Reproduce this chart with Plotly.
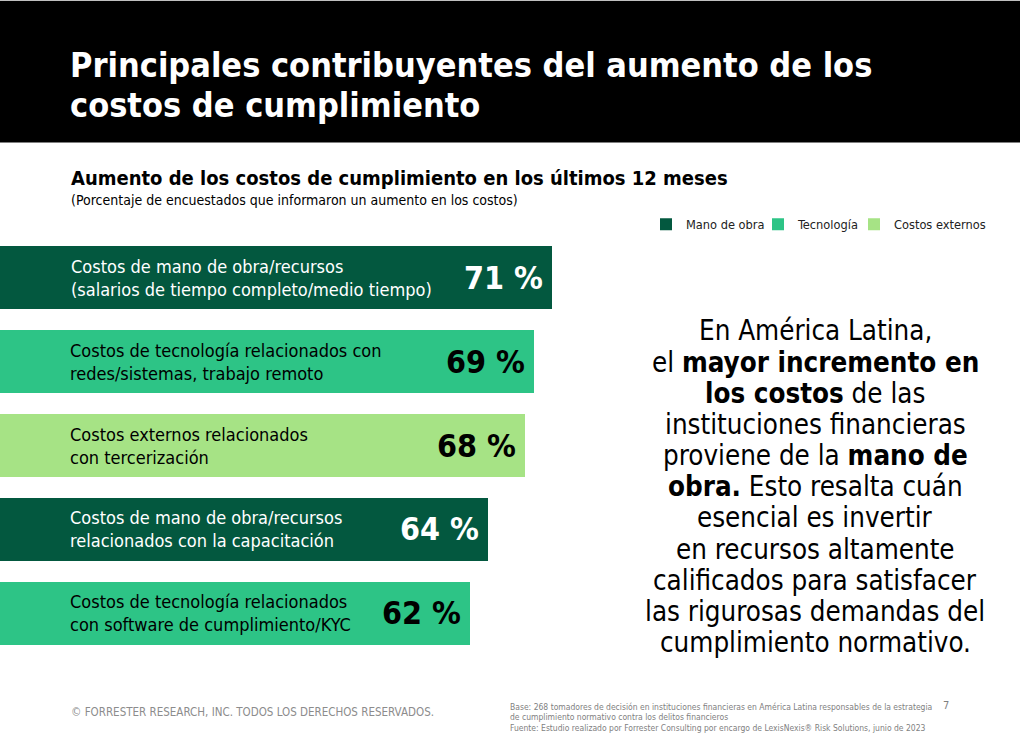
import plotly.graph_objects as go

W, H = 1020, 751
categories = [
    "Costos de mano de obra/recursos<br>(salarios de tiempo completo/medio tiempo)",
    "Costos de tecnología relacionados con<br>redes/sistemas, trabajo remoto",
    "Costos externos relacionados<br>con tercerización",
    "Costos de mano de obra/recursos<br>relacionados con la capacitación",
    "Costos de tecnología relacionados<br>con software de cumplimiento/KYC",
]
values = [71, 69, 68, 64, 62]
groups = ["Mano de obra", "Tecnología", "Costos externos", "Mano de obra", "Tecnología"]
series_names = ["Mano de obra", "Tecnología", "Costos externos"]
colors = {"Mano de obra": "#03583F", "Tecnología": "#2DC486", "Costos externos": "#A6E385"}
value_text_colors = {"Mano de obra": "white", "Tecnología": "black", "Costos externos": "black"}

FONT = "DejaVu Sans Condensed"
ML, MR, MT, MB = 0, 0, 235.5, 96
plot_h = H - MT - MB

def px(x):
    return x / W

def py(y):
    return (H - MB - y) / plot_h

legend_ids = ["legend", "legend2", "legend3"]
legend_right = [770, 864, 991]

fig = go.Figure()
for s, lid in zip(series_names, legend_ids):
    ys = [c for c, g in zip(categories, groups) if g == s]
    xs = [v for v, g in zip(values, groups) if g == s]
    fig.add_trace(go.Bar(
        y=ys, x=xs, name=s, orientation="h",
        marker=dict(color=colors[s], line=dict(width=0)),
        width=0.75, hoverinfo="skip", legend=lid,
    ))

annotations = []
for i, (c, v, g) in enumerate(zip(categories, values, groups)):
    tc = value_text_colors[g]
    annotations.append(dict(
        x=px(69 if i == 0 else 68), xref="paper", y=c, yref="y", text=c, showarrow=False,
        xanchor="left", yanchor="middle", align="left",
        font=dict(family=FONT, size=18, color=tc)))
    annotations.append(dict(
        x=v, xref="x", y=c, yref="y", text=f"<b>{v} %</b>", showarrow=False,
        xanchor="right", yanchor="middle", xshift=-7,
        font=dict(family=FONT, size=32, color=tc)))

# Title
for t, yy in [("Principales contribuyentes del aumento de los", 64), ("costos de cumplimiento", 104)]:
    annotations.append(dict(x=px(68), y=py(yy), xref="paper", yref="paper", text=f"<b>{t}</b>",
                            showarrow=False, xanchor="left", yanchor="middle",
                            font=dict(family=FONT, size=34, color="white")))
annotations.append(dict(x=px(69), y=py(177), xref="paper", yref="paper",
                        text="<b>Aumento de los costos de cumplimiento en los últimos 12 meses</b>",
                        showarrow=False, xanchor="left", yanchor="middle",
                        font=dict(family=FONT, size=20, color="black")))
annotations.append(dict(x=px(69), y=py(199), xref="paper", yref="paper",
                        text="(Porcentaje de encuestados que informaron un aumento en los costos)",
                        showarrow=False, xanchor="left", yanchor="middle",
                        font=dict(family=FONT, size=14, color="black")))

right_lines = [
    "En América Latina,",
    "el <b>mayor incremento en</b>",
    "<b>los costos</b> de las",
    "instituciones financieras",
    "proviene de la <b>mano de</b>",
    "<b>obra.</b> Esto resalta cuán",
    "esencial es invertir",
    "en recursos altamente",
    "calificados para satisfacer",
    "las rigurosas demandas del",
    "cumplimiento normativo.",
]
for i, t in enumerate(right_lines):
    annotations.append(dict(x=px(815), y=py(330 + i * 31.2), xref="paper", yref="paper", text=t,
                            showarrow=False, xanchor="center", yanchor="middle",
                            font=dict(family=FONT, size=27.5, color="black")))

annotations.append(dict(x=px(69), y=py(712), xref="paper", yref="paper",
                        text="© FORRESTER RESEARCH, INC. TODOS LOS DERECHOS RESERVADOS.",
                        showarrow=False, xanchor="left", yanchor="middle",
                        font=dict(family=FONT, size=11.5, color="#8C8C8C")))
foot = [
    "Base: 268 tomadores de decisión en instituciones financieras en América Latina responsables de la estrategia",
    "de cumplimiento normativo contra los delitos financieros",
    "Fuente: Estudio realizado por Forrester Consulting por encargo de LexisNexis® Risk Solutions, junio de 2023",
]
for i, t in enumerate(foot):
    annotations.append(dict(x=px(508), y=py(707 + i * 10.5), xref="paper", yref="paper", text=t,
                            showarrow=False, xanchor="left", yanchor="middle",
                            font=dict(family=FONT, size=8.5, color="#7F7F7F")))
annotations.append(dict(x=px(946), y=py(706), xref="paper", yref="paper", text="7",
                        showarrow=False, xanchor="center", yanchor="middle",
                        font=dict(family=FONT, size=11, color="#7F7F7F")))

scale = (552 - 470) / (71 - 62)
x0 = 71 - 552 / scale
x1 = x0 + W / scale

legend_style = dict(orientation="h", xanchor="right", y=py(224), yanchor="middle",
                    font=dict(family=FONT, size=12.7, color="#222222"), itemwidth=30,
                    bgcolor="rgba(0,0,0,0)")

fig.update_layout(
    width=W, height=H,
    margin=dict(l=ML, r=MR, t=MT, b=MB, pad=0),
    paper_bgcolor="white", plot_bgcolor="white",
    barmode="overlay", bargap=0,
    xaxis=dict(range=[x0, x1], visible=False, fixedrange=True),
    yaxis=dict(categoryorder="array", categoryarray=categories, autorange="reversed",
               range=[4.5, -0.5], visible=False, fixedrange=True),
    showlegend=True,
    legend=dict(x=px(legend_right[0]), **legend_style),
    legend2=dict(x=px(legend_right[1]), **legend_style),
    legend3=dict(x=px(legend_right[2]), **legend_style),
    shapes=[dict(type="rect", xref="paper", yref="paper", x0=0, x1=1, y0=py(142), y1=py(0),
                 fillcolor="black", line=dict(width=0), layer="below")],
    annotations=annotations,
)
fig.write_html("out.html")
